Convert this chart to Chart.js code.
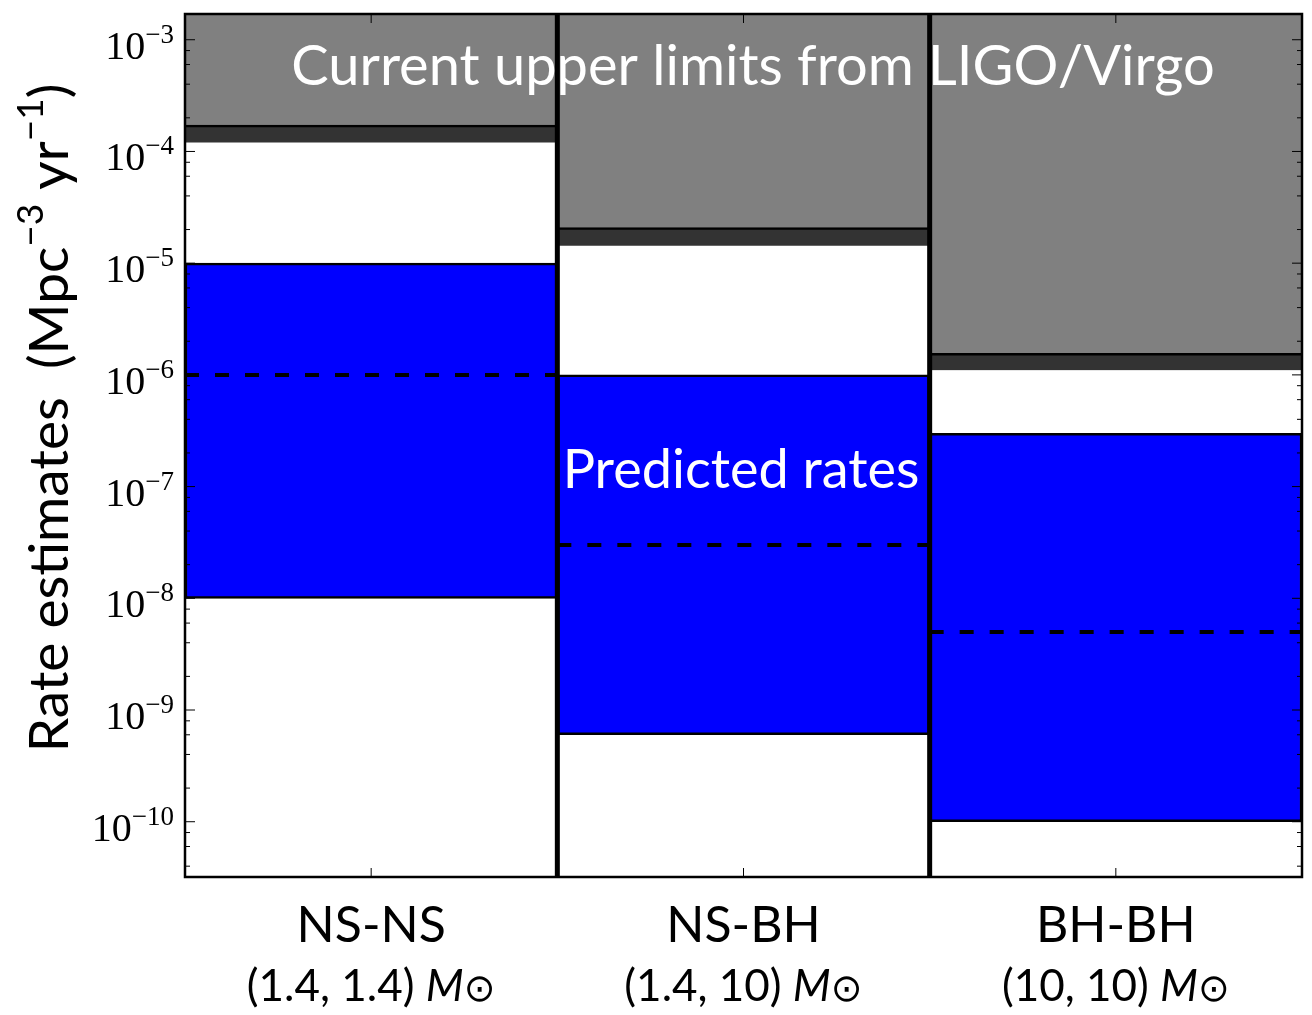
<!DOCTYPE html>
<html>
<head>
<meta charset="utf-8">
<script src="https://cdn.jsdelivr.net/npm/chart.js@4.4.0/dist/chart.umd.min.js"></script>
<style>
  html, body { margin: 0; padding: 0; background: #fff; }
  #wrap { width: 1312px; height: 1015px; }
</style>
</head>
<body>
<div id="wrap"><canvas id="rates"></canvas></div>
<script>
// compact binary systems
const pairs = ['NS-NS', 'NS-BH', 'BH-BH'];
const masses = ['(1.4, 1.4)', '(1.4, 10)', '(10, 10)'];

// current LIGO/Virgo upper limits (Mpc^-3 yr^-1): lower edge of band, limit
const limitLow = [1.2e-4, 1.43e-5, 1.1e-6];
const limitHigh = [1.72e-4, 2.08e-5, 1.56e-6];

// predicted rates: range and central estimate
const predLow = [1e-8, 6e-10, 1e-10];
const predHigh = [1e-5, 1e-6, 3e-7];
const predBest = [1e-6, 3e-8, 5e-9];

// y axis
const yMin = 3.2e-11;
const yMax = 1.7e-3;
const decades = [-10, -9, -8, -7, -6, -5, -4, -3];
const minorSubs = [2, 4, 6, 8];

const SANS = 'Lato, "Open Sans", sans-serif';
const SERIF = '"Liberation Serif", "DejaVu Serif", serif';

const centers = pairs.map((_, i) => i + 0.5);

const datasets = [
    {
        type: 'bar',
        label: 'upper limit',
        data: centers.map((x, i) => ({ x: x, y: [limitHigh[i], yMax] })),
        backgroundColor: '#808080',
        borderWidth: 0,
        order: 6
    },
    {
        type: 'bar',
        label: 'limit band',
        data: centers.map((x, i) => ({ x: x, y: [limitLow[i], limitHigh[i]] })),
        backgroundColor: '#333333',
        borderColor: '#000000',
        borderWidth: { top: 2.5, bottom: 0, left: 0, right: 0 },
        borderSkipped: false,
        order: 5
    },
    {
        type: 'bar',
        label: 'predicted',
        data: centers.map((x, i) => ({ x: x, y: [predLow[i], predHigh[i]] })),
        backgroundColor: '#0000ff',
        borderColor: '#000000',
        borderWidth: 2.5,
        borderSkipped: false,
        order: 4
    }
];

// dashed central estimate across each column
pairs.forEach((p, i) => {
    datasets.push({
        type: 'line',
        label: p + ' best',
        data: [{ x: i, y: predBest[i] }, { x: i + 1, y: predBest[i] }],
        borderColor: '#000000',
        borderWidth: 4,
        borderDash: [14, 16],
        pointRadius: 0,
        order: 3
    });
});

// thick separators between columns
[1, 2].forEach(xv => {
    datasets.push({
        type: 'line',
        label: 'sep',
        data: [{ x: xv, y: yMin }, { x: xv, y: yMax }],
        borderColor: '#000000',
        borderWidth: 5,
        pointRadius: 0,
        order: 2
    });
});

// draws pieces of text one after another, {t, font, dy}
function drawRuns(ctx, runs, x, y, align) {
    let total = 0;
    runs.forEach(r => { ctx.font = r.font; total += ctx.measureText(r.t).width; });
    let cx = align === 'center' ? x - total / 2 : (align === 'right' ? x - total : x);
    ctx.textAlign = 'left';
    runs.forEach(r => {
        ctx.font = r.font;
        ctx.fillText(r.t, cx, y + (r.dy || 0));
        cx += ctx.measureText(r.t).width;
    });
}

const framePlugin = {
    id: 'frameAndText',
    afterDatasetsDraw(chart) {
        const { ctx, chartArea, scales } = chart;
        const { left, right, top, bottom } = chartArea;
        const xs = scales.x, ys = scales.y;
        ctx.save();

        // inward ticks
        ctx.strokeStyle = '#000';
        ctx.lineWidth = 1;
        const tick = (x1, y1, x2, y2) => { ctx.beginPath(); ctx.moveTo(x1, y1); ctx.lineTo(x2, y2); ctx.stroke(); };
        for (let d = -11; d <= -3; d++) {
            const v = Math.pow(10, d);
            if (v >= yMin && v <= yMax) {
                const py = ys.getPixelForValue(v);
                tick(left, py, left + 10, py);
                tick(right, py, right - 10, py);
            }
            minorSubs.forEach(s => {
                const mv = s * v;
                if (mv < yMin || mv > yMax) return;
                const py = ys.getPixelForValue(mv);
                tick(left, py, left + 5, py);
                tick(right, py, right - 5, py);
            });
        }
        centers.forEach(c => {
            const px = xs.getPixelForValue(c);
            tick(px, bottom, px, bottom - 9);
            tick(px, top, px, top + 9);
        });

        // axes frame
        ctx.lineWidth = 2.5;
        ctx.strokeRect(left, top, right - left, bottom - top);

        // y tick labels 10^n
        ctx.fillStyle = '#000';
        ctx.textBaseline = 'alphabetic';
        decades.forEach(d => {
            const py = ys.getPixelForValue(Math.pow(10, d));
            drawRuns(ctx, [
                { t: '10', font: '40px ' + SERIF, dy: 19 },
                { t: '\u2212' + (-d), font: '27px ' + SERIF, dy: 3 }
            ], left - 11, py, 'right');
        });

        // x category labels
        pairs.forEach((p, i) => {
            const px = xs.getPixelForValue(centers[i]);
            ctx.font = '50px ' + SANS;
            ctx.textAlign = 'center';
            ctx.fillText(p, px, 942);
            drawRuns(ctx, [
                { t: masses[i] + ' ', font: '44px ' + SANS },
                { t: 'M', font: 'italic 44px ' + SANS },
                { t: '\u2299', font: '38px "DejaVu Sans", sans-serif' }
            ], px, 1001, 'center');
        });

        // y axis title
        ctx.save();
        ctx.translate(68, 418);
        ctx.rotate(-Math.PI / 2);
        drawRuns(ctx, [
            { t: 'Rate estimates  (Mpc', font: '55px ' + SANS },
            { t: '\u22123', font: '37px ' + SANS, dy: -25 },
            { t: ' yr', font: '55px ' + SANS },
            { t: '\u22121', font: '37px ' + SANS, dy: -25 },
            { t: ')', font: '55px ' + SANS }
        ], 0, 0, 'center');
        ctx.restore();

        // region captions
        ctx.fillStyle = '#ffffff';
        ctx.textAlign = 'center';
        ctx.font = '56px ' + SANS;
        ctx.fillText('Current upper limits from LIGO/Virgo', 753, 85);
        ctx.font = '54px ' + SANS;
        ctx.fillText('Predicted rates', 741, 488);

        ctx.restore();
    }
};

new Chart(document.getElementById('rates'), {
    type: 'bar',
    data: { datasets: datasets },
    options: {
        responsive: true,
        maintainAspectRatio: false,
        animation: false,
        layout: { padding: { top: 14, right: 10, left: 0, bottom: 0 } },
        datasets: {
            bar: { grouped: false, barPercentage: 1, categoryPercentage: 1 }
        },
        plugins: {
            legend: { display: false },
            tooltip: { enabled: false }
        },
        scales: {
            x: {
                type: 'linear',
                min: 0,
                max: 3,
                offset: false,
                grid: { display: false },
                border: { display: false },
                ticks: { display: false },
                afterBuildTicks: scale => { scale.ticks = centers.map(c => ({ value: c })); },
                afterFit: scale => { scale.height = 138; }
            },
            y: {
                type: 'logarithmic',
                min: yMin,
                max: yMax,
                grid: { display: false },
                border: { display: false },
                ticks: { display: false },
                afterFit: scale => { scale.width = 185; }
            }
        }
    },
    plugins: [framePlugin]
});
</script>
</body>
</html>
